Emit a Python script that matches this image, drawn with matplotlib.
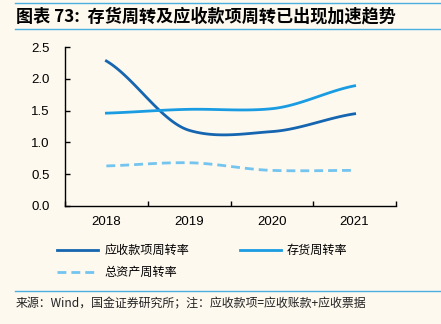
import numpy as np
import matplotlib
matplotlib.use("Agg")
import matplotlib.pyplot as plt
from matplotlib.lines import Line2D

plt.rcParams['font.family'] = ['Noto Sans CJK SC', 'DejaVu Sans']

years = ['2018', '2019', '2020', '2021']
receivable_turnover = [2.28, 1.19, 1.17, 1.45]
inventory_turnover = [1.46, 1.52, 1.53, 1.89]
asset_turnover = [0.63, 0.68, 0.56, 0.56]

bg = '#FDF9EF'
c_dark = '#1565B0'
c_mid = '#1A9CE2'
c_light = '#74C4F0'


def smooth(y, n=40, k=0.7):
    # cardinal spline through the points, only for drawing
    y = np.asarray(y, dtype=float)
    m = np.gradient(y) * k
    xs, ys = [], []
    for i in range(len(y) - 1):
        t = np.linspace(0, 1, n, endpoint=(i == len(y) - 2))
        h00 = 2 * t ** 3 - 3 * t ** 2 + 1
        h10 = t ** 3 - 2 * t ** 2 + t
        h01 = -2 * t ** 3 + 3 * t ** 2
        h11 = t ** 3 - t ** 2
        xs.append(i + t)
        ys.append(h00 * y[i] + h10 * m[i] + h01 * y[i + 1] + h11 * m[i + 1])
    return np.concatenate(xs), np.concatenate(ys)


fig = plt.figure(figsize=(4.41, 3.24), dpi=100, facecolor=bg)
ax = fig.add_axes([65 / 441, 1 - 206 / 324, 331 / 441, 159 / 324], facecolor=bg)

dash = (3.2, 1.8)
x, y = smooth(receivable_turnover)
ax.plot(x, y, color=c_dark, lw=2)
x, y = smooth(inventory_turnover)
ax.plot(x, y, color=c_mid, lw=2)
x, y = smooth(asset_turnover)
ax.plot(x, y, color=c_light, lw=2, dashes=dash)

num_font = 'Liberation Sans'
ax.set_xlim(-0.5, 3.5)
ax.set_ylim(0, 2.5)
ax.set_yticks(np.arange(0, 2.51, 0.5))
ax.set_yticklabels(['%.1f' % v for v in np.arange(0, 2.51, 0.5)], fontsize=9.5, family=num_font)
ax.set_xticks(np.arange(-0.5, 3.6, 1))
ax.set_xticklabels([])
ax.set_xticks(range(len(years)), minor=True)
ax.set_xticklabels(years, minor=True, fontsize=9.5, family=num_font)
ax.tick_params(axis='x', which='minor', length=0, pad=7)
ax.tick_params(axis='both', which='major', direction='in', length=3.5, width=1)
ax.tick_params(axis='y', pad=11)
for s in ['top', 'right']:
    ax.spines[s].set_visible(False)
for s in ['left', 'bottom']:
    ax.spines[s].set_linewidth(1)

handles = [Line2D([], [], color=c_dark, lw=2),
           Line2D([], [], color=c_light, lw=2, dashes=dash),
           Line2D([], [], color=c_mid, lw=2)]
labels = ['应收款项周转率', '总资产周转率', '存货周转率']
fig.legend(handles, labels, ncol=2, loc='upper left', bbox_to_anchor=(51 / 441, 1 - 238 / 324),
           frameon=False, fontsize=8.7, handlelength=3.4, handletextpad=0.5,
           columnspacing=4.2, labelspacing=0.75, borderpad=0)

# title block
fig.add_artist(Line2D([15 / 441, 1], [1 - 3 / 324, 1 - 3 / 324], color='#4AAEE0', lw=1))
fig.add_artist(Line2D([15 / 441, 1], [1 - 29 / 324, 1 - 29 / 324], color='#4AAEE0', lw=1))
fig.text(16 / 441, 1 - 16 / 324, '图表 73:  存货周转及应收款项周转已出现加速趋势', fontsize=12.3,
         fontweight='bold', style='italic', va='center')

fig.add_artist(Line2D([15 / 441, 1], [1 - 291 / 324, 1 - 291 / 324], color='#4AAEE0', lw=1))
fig.text(16 / 441, 1 - 304 / 324, '来源：Wind，国金证券研究所；注：应收款项=应收账款+应收票据', fontsize=8.6,
         va='center', color='#222222')

fig.savefig('out.png', dpi=100, facecolor=bg)
